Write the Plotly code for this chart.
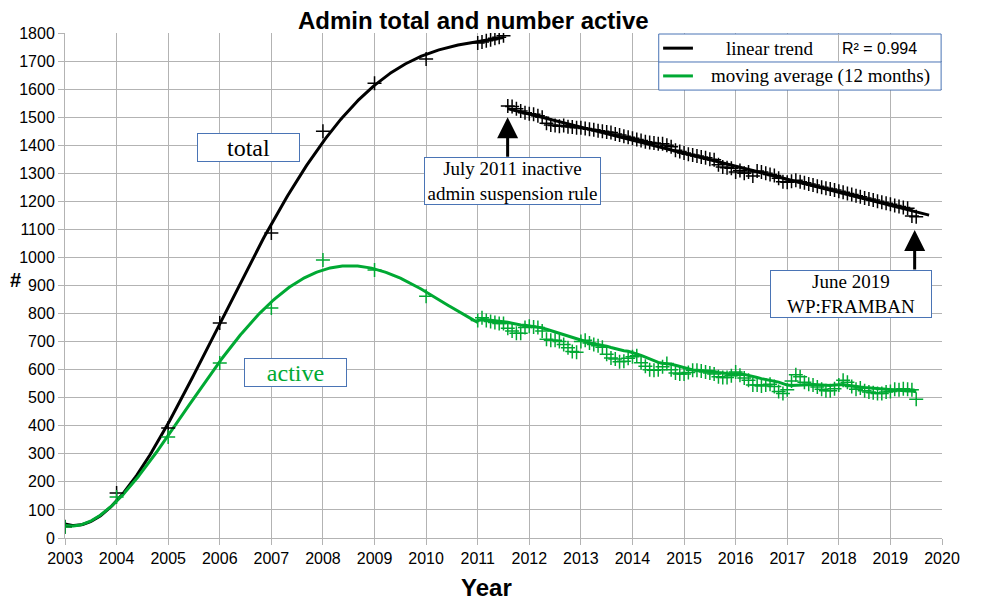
import numpy as np
import pandas as pd
import plotly.graph_objects as go

# ---------------- data ----------------
annual_years = [2003, 2004, 2005, 2006, 2007, 2008, 2009, 2010]
total_annual = [40, 160, 392, 766, 1087, 1450, 1621, 1707]
active_annual = [39, 146, 360, 624, 820, 991, 955, 862]

# total admins, Jan-Jul 2011 (before suspension rule)
total_2011_pre = [1764, 1768, 1772, 1776, 1781, 1785, 1790]

# total admins, Aug 2011 - Jul 2019
total_post = [
    1540, 1538, 1530, 1522, 1516,                                              # 2011 Aug-Dec
    1512, 1510, 1505, 1500, 1478, 1472, 1470, 1468, 1470, 1466, 1465, 1462,    # 2012
    1462, 1460, 1457, 1455, 1452, 1450, 1447, 1445, 1440, 1436, 1432, 1428,    # 2013
    1425, 1420, 1417, 1412, 1410, 1408, 1405, 1405, 1400, 1395, 1382, 1378,    # 2014
    1372, 1368, 1365, 1362, 1358, 1355, 1350, 1348, 1330, 1322, 1320, 1318,    # 2015
    1305, 1310, 1300, 1305, 1290, 1308, 1305, 1300, 1296, 1292, 1282, 1270,    # 2016
    1268, 1272, 1275, 1270, 1266, 1262, 1258, 1254, 1250, 1247, 1244, 1240,    # 2017
    1236, 1232, 1228, 1224, 1220, 1216, 1212, 1208, 1205, 1200, 1197, 1193,    # 2018
    1190, 1185, 1182, 1178, 1175, 1148, 1145,                                  # 2019 Jan-Jul
]

# active admins, Jan 2011 - Jul 2019
active_monthly = [
    775, 785, 775, 772, 768, 765, 765, 748, 738, 730, 730, 750,    # 2011
    755, 752, 750, 738, 708, 705, 705, 700, 690, 678, 665, 662,    # 2012
    700, 705, 695, 690, 685, 680, 655, 642, 638, 628, 630, 641,    # 2013
    646, 650, 625, 612, 600, 598, 600, 610, 622, 600, 588, 585,    # 2014
    585, 590, 598, 598, 595, 592, 588, 585, 575, 572, 572, 578,    # 2015
    592, 580, 570, 562, 545, 545, 542, 545, 548, 540, 522, 515,    # 2016
    528, 560, 582, 575, 555, 548, 545, 538, 530, 525, 525, 532,    # 2017
    545, 562, 555, 540, 530, 535, 525, 520, 518, 515, 515, 520,    # 2018
    522, 530, 528, 532, 530, 528, 495,                             # 2019 Jan-Jul
]

x_ticks = list(range(2003, 2021))
y_ticks = list(range(0, 1801, 100))

# ---------------- derived x positions ----------------
months_active = pd.date_range("2011-01-01", periods=len(active_monthly), freq="MS")
x_active_m = np.array([d.year + (d.month - 1) / 12 for d in months_active])
months_pre = pd.date_range("2011-01-01", periods=len(total_2011_pre), freq="MS")
x_pre = np.array([d.year + (d.month - 1) / 12 for d in months_pre])
months_post = pd.date_range("2011-08-01", periods=len(total_post), freq="MS")
x_post = np.array([d.year + (d.month - 1) / 12 for d in months_post])

BLACK = "#000000"
GREEN = "#00a933"
BOX = "#4a74b5"
GRID = "#b3b3b3"
SERIF = "Liberation Serif, Times New Roman, serif"
SANS = "Liberation Sans, Arial, sans-serif"

# polynomial trend for early growth
xt = np.concatenate([annual_years, x_pre])
yt = np.concatenate([total_annual, total_2011_pre])
pt = np.polyfit(xt - 2007, yt, 4)
xs_t = np.linspace(2003, x_pre[-1], 300)
ys_t = np.polyval(pt, xs_t - 2007)

xa = np.concatenate([annual_years, x_active_m[:1]])
ya = np.concatenate([active_annual, active_monthly[:1]])
pa = np.polyfit(xa - 2007, ya, 4)
xs_a = np.linspace(2003, x_active_m[0], 300)
ys_a = np.polyval(pa, xs_a - 2007)

# linear trend after suspension rule
lin = np.polyfit(x_post, total_post, 1)
xs_lin = np.array([x_post[0], 2019.75])
ys_lin = np.polyval(lin, xs_lin)

# 12 month moving average
ma = pd.Series(active_monthly).rolling(12, min_periods=1).mean().values

fig = go.Figure()

fig.add_trace(go.Scatter(x=xs_t, y=ys_t, mode="lines", line=dict(color=BLACK, width=3),
                         showlegend=False, hoverinfo="skip"))
fig.add_trace(go.Scatter(x=xs_lin, y=ys_lin, mode="lines", line=dict(color=BLACK, width=3),
                         name="linear trend", showlegend=False))
fig.add_trace(go.Scatter(x=xs_a, y=ys_a, mode="lines", line=dict(color=GREEN, width=3),
                         showlegend=False, hoverinfo="skip"))
fig.add_trace(go.Scatter(x=np.concatenate([[xs_a[-1]], x_active_m]),
                         y=np.concatenate([[ys_a[-1]], ma]), mode="lines",
                         line=dict(color=GREEN, width=3),
                         name="moving average (12 months)", showlegend=False))

mk_black = dict(symbol="cross-thin", size=10, line=dict(color=BLACK, width=1.5))
mk_green = dict(symbol="cross-thin", size=10, line=dict(color=GREEN, width=1.5))

fig.add_trace(go.Scatter(x=annual_years, y=total_annual, mode="markers", marker=mk_black, showlegend=False))
fig.add_trace(go.Scatter(x=x_pre, y=total_2011_pre, mode="markers", marker=mk_black, showlegend=False))
fig.add_trace(go.Scatter(x=x_post, y=total_post, mode="markers", marker=mk_black, showlegend=False))
fig.add_trace(go.Scatter(x=annual_years, y=active_annual, mode="markers", marker=mk_green, showlegend=False))
fig.add_trace(go.Scatter(x=x_active_m, y=active_monthly, mode="markers", marker=mk_green, showlegend=False))

annotations = []
shapes = []

# title and axis titles
annotations.append(dict(text="<b>Admin total and number active</b>", xref="paper", yref="paper",
                        x=0.466, y=1.0, yshift=13, xanchor="center", yanchor="middle",
                        showarrow=False, font=dict(family=SANS, size=24, color="black")))
annotations.append(dict(text="<b>Year</b>", xref="paper", yref="paper", x=0.481, y=-0.099,
                        xanchor="center", yanchor="middle", showarrow=False,
                        font=dict(family=SANS, size=24, color="black")))
annotations.append(dict(text="<b>#</b>", xref="paper", yref="paper", x=-0.0565, y=0.511,
                        xanchor="center", yanchor="middle", showarrow=False,
                        font=dict(family=SANS, size=20, color="black")))

# text boxes
def box(text, x, y, w, h, color="black", size=19):
    annotations.append(dict(text=text, x=x, y=y, xref="x", yref="y", showarrow=False,
                            xanchor="center", yanchor="middle", width=w, height=h,
                            bgcolor="white", bordercolor=BOX, borderwidth=1, borderpad=0,
                            font=dict(family=SERIF, size=size, color=color)))

box("total", 2006.56, 1392, 101, 27, size=24)
box("active", 2007.47, 590, 101, 27, color=GREEN, size=24)
box("July 2011 inactive<br>admin suspension rule", 2011.68, 1272, 175, 46)
box("June 2019<br>WP:FRAMBAN", 2018.23, 870, 160, 46)

# arrows
for ax_, ay_ in [(2011.58, 1500), (2019.47, 1098)]:
    annotations.append(dict(x=ax_, y=ay_, xref="x", yref="y", text="", showarrow=True,
                            ax=0, ay=41, arrowhead=2, arrowwidth=3, arrowsize=1.4,
                            arrowcolor="black", standoff=0))

# legend (table style)
L, R, T, B = 0.677, 0.999, 0.998, 0.887
MID = 0.9426
VX = 0.882
shapes.append(dict(type="rect", xref="paper", yref="paper", x0=L, x1=R, y0=B, y1=T,
                   fillcolor="white", line=dict(color=BOX, width=1), layer="above"))
shapes.append(dict(type="line", xref="paper", yref="paper", x0=L, x1=R, y0=MID, y1=MID,
                   line=dict(color=BOX, width=1), layer="above"))
shapes.append(dict(type="line", xref="paper", yref="paper", x0=VX, x1=VX, y0=MID, y1=T,
                   line=dict(color=GRID, width=1), layer="above"))
shapes.append(dict(type="line", xref="paper", yref="paper", x0=0.682, x1=0.716, y0=0.970, y1=0.970,
                   line=dict(color=BLACK, width=3), layer="above"))
shapes.append(dict(type="line", xref="paper", yref="paper", x0=0.682, x1=0.716, y0=0.915, y1=0.915,
                   line=dict(color=GREEN, width=3), layer="above"))
annotations.append(dict(text="linear trend", xref="paper", yref="paper", x=0.804, y=0.970,
                        xanchor="center", yanchor="middle", showarrow=False,
                        font=dict(family=SERIF, size=19, color="black")))
annotations.append(dict(text="R² = 0.994", xref="paper", yref="paper", x=0.929, y=0.970,
                        xanchor="center", yanchor="middle", showarrow=False,
                        font=dict(family=SANS, size=16, color="black")))
annotations.append(dict(text="moving average (12 months)", xref="paper", yref="paper", x=0.861, y=0.915,
                        xanchor="center", yanchor="middle", showarrow=False,
                        font=dict(family=SERIF, size=19, color="black")))

fig.update_layout(
    width=992, height=602,
    margin=dict(l=57, r=58, t=25, b=72),
    paper_bgcolor="white", plot_bgcolor="white",
    showlegend=False,
    annotations=annotations, shapes=shapes,
    font=dict(family=SANS, size=16, color="black"),
)
fig.update_xaxes(range=[2003, 2020], tickmode="array", tickvals=x_ticks,
                 ticktext=[str(v) for v in x_ticks], showgrid=True, gridcolor=GRID, gridwidth=1,
                 ticks="outside", ticklen=6, tickcolor=GRID, showline=True, linecolor=GRID,
                 zeroline=False, tickfont=dict(family=SANS, size=16))
fig.update_yaxes(range=[0, 1800], tickmode="array", tickvals=y_ticks,
                 ticktext=[str(v) for v in y_ticks], showgrid=True, gridcolor=GRID, gridwidth=1,
                 ticks="outside", ticklen=6, tickcolor=GRID, showline=True, linecolor=GRID,
                 zeroline=False, tickfont=dict(family=SANS, size=16))

fig.write_html("out.html")
